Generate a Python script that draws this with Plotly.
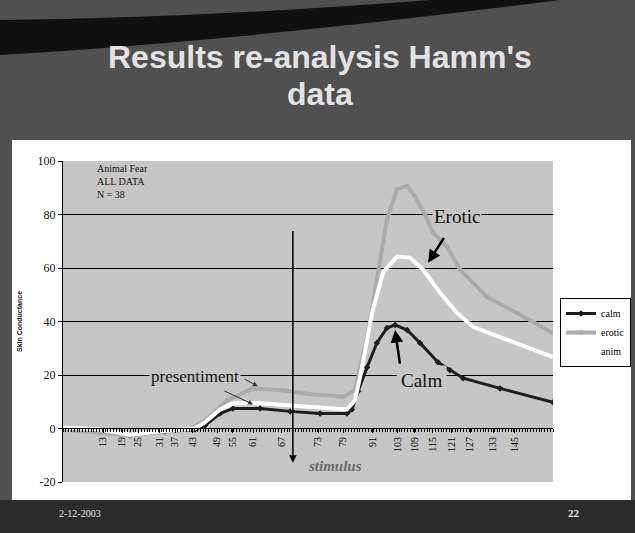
import plotly.graph_objects as go

# ---------------- data ----------------
calm_x = [0, 13.2, 23.9, 36.4, 47.1, 50.7, 56.1, 60.7, 70.4, 81.1, 91.8, 101.4, 103.2, 105.4,
          108.6, 112.1, 115.7, 118.6, 122.9, 127.5, 133.9, 138.2, 142.9, 156.1, 175]
calm_y = [0, -1.1, -2.6, -1.1, -0.4, 1.1, 5.6, 7.5, 7.5, 6.4, 5.6, 5.6, 7.1, 13.9,
          22.9, 32.0, 37.6, 38.7, 36.8, 32.0, 24.8, 21.8, 18.8, 15.0, 9.8]

erotic_x = [0, 13.2, 23.9, 36.4, 45.4, 50.7, 58.6, 67.9, 78.6, 88.2, 100, 104.3, 108.6, 112.1,
            115.7, 119.3, 122.9, 125.7, 129.3, 132.1, 137.1, 141.8, 151.4, 162.1, 175]
erotic_y = [-0.4, -1.5, -2.6, -1.1, -0.4, 3.0, 10.5, 15.0, 14.3, 12.8, 12.0, 14.3, 34.2, 55.6,
            78.2, 89.5, 90.6, 86.8, 80.1, 73.3, 68.0, 59.4, 49.2, 43.2, 35.7]

anim_x = [0, 13.2, 23.9, 36.4, 47.1, 50.7, 56.1, 60.7, 70.4, 81.1, 91.8, 101.4, 104.3, 106.8,
          110.4, 114.3, 119.3, 123.9, 128.6, 134.6, 140.7, 146.4, 156.1, 165.7, 175]
anim_y = [0.4, -0.4, -2.3, -0.8, 0, 2.3, 7.1, 9.4, 9.4, 8.6, 7.5, 7.1, 10.5, 22.9,
          43.2, 58.3, 64.3, 63.9, 59.4, 50.8, 43.2, 38.0, 34.2, 30.5, 26.7]

tick_labels = ["13", "19", "25", "31", "37", "43", "49", "55", "61", "67", "73", "79",
               "91", "103", "109", "115", "121", "127", "133", "145"]
tick_pos = [14.3, 21.1, 26.8, 34.6, 40.0, 46.4, 55.0, 60.7, 67.9, 78.2, 91.1, 100.0,
            110.7, 119.6, 125.7, 132.1, 138.9, 145.4, 153.6, 161.4]

y_ticks = [-20, 0, 20, 40, 60, 80, 100]
y_tick_labels = ["-20", "0", "20", "40", "60", "80", "100"]
y_grid = [20, 40, 60, 80]

# ---------------- layout helpers ----------------
W, H = 635, 533
L, R, T, B = 63, 82, 161, 51
PW, PH = W - L - R, H - T - B


def px(x):
    return (x - L) / PW


def py(y):
    return (H - B - y) / PH


SERIF = "Liberation Serif, Times New Roman, serif"
PLOT_BG = "#c6c6c6"
TITLE_FONT = dict(family="Liberation Sans, Arial, sans-serif", size=32, color="#e2e2e2")

fig = go.Figure()
fig.add_trace(go.Scatter(x=calm_x, y=calm_y, name="calm", mode="lines+markers",
                         line=dict(color="#1e1e1e", width=3),
                         marker=dict(symbol="diamond", size=5, color="#1e1e1e")))
fig.add_trace(go.Scatter(x=erotic_x, y=erotic_y, name="erotic", mode="lines+markers",
                         line=dict(color="#ababab", width=4),
                         marker=dict(symbol="square", size=4, color="#ababab")))
fig.add_trace(go.Scatter(x=anim_x, y=anim_y, name="anim", mode="lines",
                         line=dict(color="#ffffff", width=4)))

shapes = [
    dict(type="path", xref="paper", yref="paper", layer="below",
         path=f"M {px(0)},{py(20)} Q {px(200)},{py(18)} {px(430)},{py(0)} "
              f"L {px(560)},{py(0)} Q {px(250)},{py(40)} {px(0)},{py(55)} Z",
         fillcolor="#101010", line=dict(width=0)),
    dict(type="rect", xref="paper", yref="paper", layer="below",
         x0=px(0), x1=px(W), y0=py(H), y1=py(500),
         fillcolor="#2c2c2c", line=dict(width=0)),
    dict(type="rect", xref="paper", yref="paper", layer="below",
         x0=px(12), x1=px(631), y0=py(500), y1=py(140),
         fillcolor="#ffffff", line=dict(width=0)),
    dict(type="rect", xref="x domain", yref="y domain", layer="below",
         x0=0, x1=1, y0=0, y1=1, fillcolor=PLOT_BG, line=dict(width=0)),
]

ann = [
    dict(xref="paper", yref="paper", x=px(320), y=py(57), text="<b>Results re-analysis Hamm's</b>",
         yanchor="middle", showarrow=False, font=TITLE_FONT),
    dict(xref="paper", yref="paper", x=px(320), y=py(94), text="<b>data</b>",
         yanchor="middle", showarrow=False, font=TITLE_FONT),
    dict(xref="paper", yref="paper", x=px(57), y=py(513), text="2-12-2003", xanchor="left",
         yanchor="middle", showarrow=False, font=dict(family=SERIF, size=10, color="#e8e8e8")),
    dict(xref="paper", yref="paper", x=px(582), y=py(513), text="<b>22</b>",
         yanchor="middle", showarrow=False, font=dict(family=SERIF, size=11, color="#e8e8e8")),
    dict(x=11.4, y=100, text="Animal Fear<br>ALL DATA<br>N = 38", xanchor="left", yanchor="top",
         align="left", showarrow=False, font=dict(family=SERIF, size=10, color="#111")),
    dict(x=47.1, y=19.5, text="presentiment", showarrow=False, bgcolor=PLOT_BG,
         font=dict(family=SERIF, size=17, color="#111")),
    dict(x=69.6, y=15.8, ax=64.3, ay=18.8, axref="x", ayref="y", text="", showarrow=True,
         arrowhead=2, arrowsize=1, arrowwidth=1, arrowcolor="#333"),
    dict(x=67.9, y=9.0, ax=57.1, ay=14.3, axref="x", ayref="y", text="", showarrow=True,
         arrowhead=2, arrowsize=1, arrowwidth=1, arrowcolor="#333"),
    dict(x=140.7, y=79.3, text="Erotic", showarrow=False, bgcolor=PLOT_BG,
         font=dict(family=SERIF, size=19, color="#111")),
    dict(x=130.4, y=62.0, ax=136.4, ay=71.8, axref="x", ayref="y", text="", showarrow=True,
         arrowhead=2, arrowsize=1, arrowwidth=2.5, arrowcolor="#000"),
    dict(x=128.2, y=18.0, text="Calm", showarrow=False, bgcolor=PLOT_BG, borderpad=4,
         font=dict(family=SERIF, size=19, color="#111")),
    dict(x=118.6, y=36.8, ax=120.4, ay=23.7, axref="x", ayref="y", text="", showarrow=True,
         arrowhead=2, arrowsize=1, arrowwidth=2.5, arrowcolor="#000"),
    dict(x=82.1, y=-12.8, ax=82.1, ay=74.4, axref="x", ayref="y", text="", showarrow=True,
         arrowhead=2, arrowsize=1, arrowwidth=1.5, arrowcolor="#000"),
    dict(x=97.1, y=-13.9, text="<b><i>stimulus</i></b>", showarrow=False,
         font=dict(family=SERIF, size=15, color="#6a6a6a")),
]

fig.update_layout(
    width=W, height=H,
    margin=dict(l=L, r=R, t=T, b=B, pad=0, autoexpand=False),
    paper_bgcolor="#505050",
    plot_bgcolor="rgba(0,0,0,0)",
    shapes=shapes,
    annotations=ann,
    showlegend=True,
    legend=dict(x=px(560), y=py(298), xanchor="left", yanchor="top",
                bgcolor="#ffffff", bordercolor="#000", borderwidth=1,
                font=dict(family=SERIF, size=10, color="#000"),
                itemwidth=30, tracegroupgap=0),
    xaxis=dict(range=[0, 175], tickmode="array", tickvals=tick_pos, ticktext=tick_labels,
               tickangle=-90, showgrid=False, zeroline=False,
               anchor="free", position=py(428),
               showline=True, linecolor="#000", linewidth=1,
               ticks="outside", ticklen=4, tickcolor="#000",
               minor=dict(tickmode="linear", tick0=0, dtick=1, ticks="outside",
                          ticklen=3, tickcolor="#000", showgrid=False),
               tickfont=dict(family=SERIF, size=10, color="#000")),
    yaxis=dict(range=[-20, 100], tickmode="array", tickvals=y_ticks, ticktext=y_tick_labels,
               showgrid=False, zeroline=False,
               showline=True, linecolor="#000", linewidth=1,
               ticks="outside", ticklen=4, tickcolor="#000",
               minor=dict(tickmode="array", tickvals=[v + 1e-3 for v in y_grid],
                          showgrid=True, gridcolor="#000", gridwidth=1, ticks=""),
               tickfont=dict(family=SERIF, size=12, color="#111"),
               title=dict(text="<b>Skin Conductance</b>", standoff=14,
                          font=dict(family="Liberation Sans, Arial, sans-serif", size=7,
                                    color="#111"))),
)

fig.write_html("out.html", config={"displayModeBar": False},
               post_script="document.body.style.margin='0';document.body.style.overflow='hidden';")
